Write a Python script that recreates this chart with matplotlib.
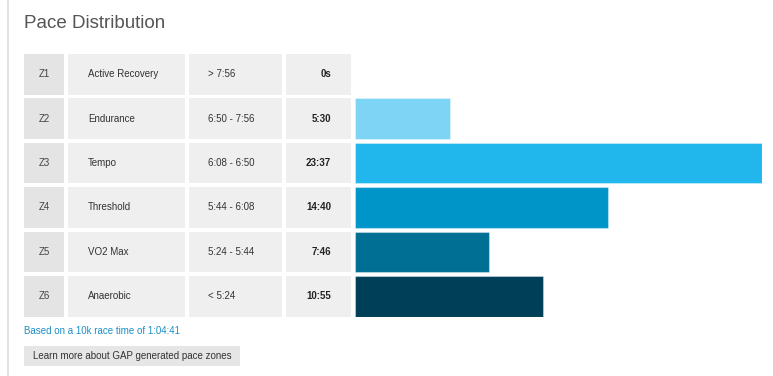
import matplotlib
matplotlib.use("Agg")
import matplotlib.pyplot as plt
from matplotlib.patches import Rectangle

# ---- data ----
zones = ["Z1", "Z2", "Z3", "Z4", "Z5", "Z6"]
zone_names = ["Active Recovery", "Endurance", "Tempo", "Threshold", "VO2 Max", "Anaerobic"]
pace_ranges = ["> 7:56", "6:50 - 7:56", "6:08 - 6:50", "5:44 - 6:08", "5:24 - 5:44", "< 5:24"]
time_labels = ["0s", "5:30", "23:37", "14:40", "7:46", "10:55"]
time_seconds = [0, 330, 1417, 880, 466, 655]
bar_colors = ["#cfeefa", "#7dd4f4", "#21b7ec", "#0095c8", "#006f94", "#003f58"]

title = "Pace Distribution"
footnote = "Based on a 10k race time of 1:04:41"
button_text = "Learn more about GAP generated pace zones"

W, H = 773, 376
FONT = "Liberation Sans"
plt.rcParams["font.family"] = [FONT, "DejaVu Sans"]

fig = plt.figure(figsize=(W / 100, H / 100), dpi=100)
fig.patch.set_facecolor("white")

# main canvas axes in pixel coordinates
ax = fig.add_axes([0, 0, 1, 1])
ax.set_xlim(0, W)
ax.set_ylim(H, 0)
ax.axis("off")

# left border line
ax.plot([8, 8], [0, H], color="#dddddd", lw=1.2)

ax.text(24, 23, title, fontsize=13.5, color="#555555", va="center", ha="left")

row_top = 54
pitch = 44.4
row_h = 40.5
cols = [(24, 64), (68, 185), (189, 282), (286, 351)]

for i in range(len(zones)):
    y0 = row_top + i * pitch
    yc = y0 + row_h / 2
    for j, (x0, x1) in enumerate(cols):
        fc = "#e4e4e4" if j == 0 else "#efefef"
        ax.add_patch(Rectangle((x0, y0), x1 - x0, row_h, facecolor=fc, edgecolor="none"))
    ax.text(44, yc, zones[i], fontsize=7, color="#444444", ha="center", va="center")
    ax.text(88, yc, zone_names[i], fontsize=7, color="#333333", ha="left", va="center")
    ax.text(208, yc, pace_ranges[i], fontsize=7, color="#333333", ha="left", va="center")
    ax.text(331, yc, time_labels[i], fontsize=7, color="#222222", ha="right", va="center",
            fontweight="bold")

ax.text(24, 331, footnote, fontsize=7, color="#1b8fc6", ha="left", va="center")
ax.add_patch(Rectangle((24, 346), 216, 20, facecolor="#e6e6e6", edgecolor="none"))
ax.text(33, 356, button_text, fontsize=7, color="#333333", ha="left", va="center")

# bar axes aligned with the table rows
y_top_px = row_top
y_bot_px = row_top + (len(zones) - 1) * pitch + row_h
x_left_px, x_right_px = 355, 762
bax = fig.add_axes([x_left_px / W, 1 - y_bot_px / H,
                    (x_right_px - x_left_px) / W, (y_bot_px - y_top_px) / H])
half = row_h / (2 * pitch)
bax.set_ylim(len(zones) - 1 + half, -half)
bax.set_xlim(0, max(time_seconds))
bax.barh(range(len(zones)), time_seconds, height=row_h / pitch, color=bar_colors,
         edgecolor=[(1, 1, 1, 0.35)] * len(zones), linewidth=0.8, align="center")
bax.axis("off")

fig.savefig("out.png", dpi=100, facecolor="white")
